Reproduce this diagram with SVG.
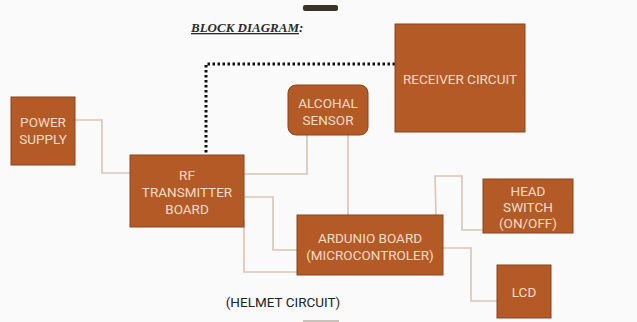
<svg xmlns="http://www.w3.org/2000/svg" width="637" height="322" viewBox="0 0 637 322">
<style>
.box{fill:#B35A27;stroke:#8A4520;stroke-width:1}
.lbl{font-family:Roboto,"Liberation Sans",sans-serif;font-size:13.5px;fill:#F4DCC8;text-anchor:middle}
.wire{fill:none;stroke:#D8C5B4;stroke-width:1.6}
.dot{fill:none;stroke:#111;stroke-width:3;stroke-dasharray:2.5 2.5}
</style>
<rect width="637" height="322" fill="#FAFAFA"/>
<rect x="303" y="5" width="35" height="6" rx="2" fill="#3A3328"/>
<rect x="303" y="320" width="36" height="2" fill="#C9C2BA"/>
<text x="191" y="32" font-family="'Liberation Serif',serif" font-size="13" font-weight="bold" font-style="italic" fill="#2A2A2A"><tspan text-decoration="underline">BLOCK DIAGRAM</tspan>:</text>
<g id="connectors">
<path class="dot" d="M395 64 H206 V155"/>
<path class="wire" d="M75 120 H102 V173 H130"/>
<path class="wire" d="M244 174 H307 V135"/>
<path class="wire" d="M244 197 H273 V250 H297"/>
<path class="wire" d="M244 220 V272 H297"/>
<path class="wire" d="M348 135 V215"/>
<path class="wire" d="M436 215 L435 176 H462 V230 H483"/>
<path class="wire" d="M443 248 H471 V301 H497"/>
</g>
<g id="power-supply">
<rect class="box" x="11" y="97" width="64" height="68"/>
<text class="lbl" x="43" y="127">POWER</text>
<text class="lbl" x="43" y="144">SUPPLY</text>
</g>
<g id="rf-transmitter">
<rect class="box" x="130" y="155" width="114" height="72"/>
<text class="lbl" x="187" y="180">RF</text>
<text class="lbl" x="187" y="197">TRANSMITTER</text>
<text class="lbl" x="187" y="214">BOARD</text>
</g>
<g id="alcohal-sensor">
<rect class="box" x="288" y="85" width="80" height="50" rx="8"/>
<text class="lbl" x="328" y="108">ALCOHAL</text>
<text class="lbl" x="328" y="125">SENSOR</text>
</g>
<g id="receiver-circuit">
<rect class="box" x="395" y="24" width="130" height="108"/>
<text class="lbl" x="460" y="84">RECEIVER CIRCUIT</text>
</g>
<g id="arduino-board">
<rect class="box" x="297" y="215" width="146" height="60"/>
<text class="lbl" x="370" y="243">ARDUNIO BOARD</text>
<text class="lbl" x="370" y="260">(MICROCONTROLER)</text>
</g>
<g id="head-switch">
<rect class="box" x="483" y="179" width="90" height="54"/>
<text class="lbl" x="528" y="196">HEAD</text>
<text class="lbl" x="528" y="212">SWITCH</text>
<text class="lbl" x="528" y="228">(ON/OFF)</text>
</g>
<g id="lcd">
<rect class="box" x="497" y="265" width="54" height="53"/>
<text class="lbl" x="524" y="297">LCD</text>
</g>
<text x="283" y="307" font-family="Roboto,'Liberation Sans',sans-serif" font-size="13.5" fill="#222" text-anchor="middle">(HELMET CIRCUIT)</text>
</svg>
